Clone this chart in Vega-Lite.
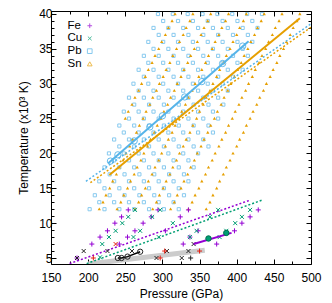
{
"$schema":"https://vega.github.io/schema/vega-lite/v6.json",
"width":260,"height":253,"autosize":"none",
"padding":{"left":51,"top":11,"right":21,"bottom":39},
"config":{"view":{"stroke":"#000","strokeWidth":1},"font":"Liberation Sans",
"axis":{"labelFont":"Liberation Sans","labelFontSize":12,"titleFont":"Liberation Sans","titleFontSize":12,"titleFontWeight":"normal","labelColor":"#000","titleColor":"#000","tickColor":"#000","tickWidth":1,"domain":false,"grid":false,"labelOverlap":false,"labelFlush":false},
"legend":{"labelFont":"Liberation Sans","labelFontSize":11.5,"labelColor":"#000","padding":0,"labelAlign":"left","labelOffset":-28,"symbolOffset":0,"rowPadding":-0.3,"symbolStrokeWidth":1,"symbolSize":22}},
"datasets":{
"pb":[
{"p":202,"t":12},{"p":222,"t":12},{"p":242,"t":12},{"p":262,"t":12},{"p":282,"t":12},{"p":302,"t":12},{"p":322,"t":12},
{"p":215,"t":13},{"p":235,"t":13},{"p":255,"t":13},{"p":275,"t":13},{"p":295,"t":13},{"p":315,"t":13},
{"p":209,"t":14},{"p":229,"t":14},{"p":249,"t":14},{"p":269,"t":14},{"p":289,"t":14},{"p":309,"t":14},{"p":329,"t":14},
{"p":222,"t":15},{"p":242,"t":15},{"p":262,"t":15},{"p":282,"t":15},{"p":302,"t":15},{"p":322,"t":15},
{"p":215,"t":16},{"p":235,"t":16},{"p":255,"t":16},{"p":275,"t":16},{"p":295,"t":16},{"p":315,"t":16},{"p":335,"t":16},
{"p":229,"t":17},{"p":249,"t":17},{"p":269,"t":17},{"p":289,"t":17},{"p":309,"t":17},{"p":329,"t":17},
{"p":222,"t":18},{"p":242,"t":18},{"p":262,"t":18},{"p":282,"t":18},{"p":302,"t":18},{"p":322,"t":18},{"p":342,"t":18},
{"p":235,"t":19},{"p":255,"t":19},{"p":275,"t":19},{"p":295,"t":19},{"p":315,"t":19},{"p":335,"t":19},
{"p":228,"t":20},{"p":248,"t":20},{"p":268,"t":20},{"p":288,"t":20},{"p":308,"t":20},{"p":328,"t":20},{"p":348,"t":20},
{"p":242,"t":21},{"p":262,"t":21},{"p":282,"t":21},{"p":302,"t":21},{"p":322,"t":21},{"p":342,"t":21},{"p":362,"t":21},
{"p":235,"t":22},{"p":255,"t":22},{"p":275,"t":22},{"p":295,"t":22},{"p":315,"t":22},{"p":335,"t":22},{"p":355,"t":22},
{"p":248,"t":23},{"p":268,"t":23},{"p":288,"t":23},{"p":308,"t":23},{"p":328,"t":23},{"p":348,"t":23},{"p":368,"t":23},
{"p":242,"t":24},{"p":262,"t":24},{"p":282,"t":24},{"p":302,"t":24},{"p":322,"t":24},{"p":342,"t":24},{"p":362,"t":24},
{"p":255,"t":25},{"p":275,"t":25},{"p":295,"t":25},{"p":315,"t":25},{"p":335,"t":25},{"p":355,"t":25},{"p":375,"t":25},
{"p":248,"t":26},{"p":268,"t":26},{"p":288,"t":26},{"p":308,"t":26},{"p":328,"t":26},{"p":348,"t":26},{"p":368,"t":26},
{"p":262,"t":27},{"p":282,"t":27},{"p":302,"t":27},{"p":322,"t":27},{"p":342,"t":27},{"p":362,"t":27},{"p":382,"t":27},
{"p":255,"t":28},{"p":275,"t":28},{"p":295,"t":28},{"p":315,"t":28},{"p":335,"t":28},{"p":355,"t":28},{"p":375,"t":28},
{"p":268,"t":29},{"p":288,"t":29},{"p":308,"t":29},{"p":328,"t":29},{"p":348,"t":29},{"p":368,"t":29},{"p":388,"t":29},
{"p":261,"t":30},{"p":281,"t":30},{"p":301,"t":30},{"p":321,"t":30},{"p":341,"t":30},{"p":361,"t":30},{"p":381,"t":30},
{"p":275,"t":31},{"p":295,"t":31},{"p":315,"t":31},{"p":335,"t":31},{"p":355,"t":31},{"p":375,"t":31},{"p":395,"t":31},
{"p":268,"t":32},{"p":288,"t":32},{"p":308,"t":32},{"p":328,"t":32},{"p":348,"t":32},{"p":368,"t":32},{"p":388,"t":32},{"p":408,"t":32},
{"p":281,"t":33},{"p":301,"t":33},{"p":321,"t":33},{"p":341,"t":33},{"p":361,"t":33},{"p":381,"t":33},{"p":401,"t":33},
{"p":275,"t":34},{"p":295,"t":34},{"p":315,"t":34},{"p":335,"t":34},{"p":355,"t":34},{"p":375,"t":34},{"p":395,"t":34},{"p":415,"t":34},
{"p":288,"t":35},{"p":308,"t":35},{"p":328,"t":35},{"p":348,"t":35},{"p":368,"t":35},{"p":388,"t":35},{"p":408,"t":35},
{"p":281,"t":36},{"p":301,"t":36},{"p":321,"t":36},{"p":341,"t":36},{"p":361,"t":36},{"p":381,"t":36},{"p":401,"t":36},{"p":421,"t":36},
{"p":295,"t":37},{"p":315,"t":37},{"p":335,"t":37},{"p":355,"t":37},{"p":375,"t":37},{"p":395,"t":37},{"p":415,"t":37},
{"p":288,"t":38},{"p":308,"t":38},{"p":328,"t":38},{"p":348,"t":38},{"p":368,"t":38},{"p":388,"t":38},{"p":408,"t":38},{"p":428,"t":38},
{"p":301,"t":39},{"p":321,"t":39},{"p":341,"t":39},{"p":361,"t":39},{"p":381,"t":39},{"p":401,"t":39},{"p":421,"t":39},
{"p":294,"t":40},{"p":314,"t":40},{"p":334,"t":40},{"p":354,"t":40},{"p":374,"t":40},{"p":394,"t":40},{"p":414,"t":40},{"p":434,"t":40}
],
"sn":[
{"p":359,"t":12},{"p":335,"t":12},{"p":311,"t":12},{"p":287,"t":12},{"p":263,"t":12},{"p":239,"t":12},{"p":215,"t":12},
{"p":364,"t":13},{"p":340,"t":13},{"p":316,"t":13},{"p":292,"t":13},{"p":268,"t":13},{"p":244,"t":13},{"p":220,"t":13},
{"p":368,"t":14},{"p":344,"t":14},{"p":320,"t":14},{"p":296,"t":14},{"p":272,"t":14},{"p":248,"t":14},{"p":224,"t":14},
{"p":373,"t":15},{"p":349,"t":15},{"p":325,"t":15},{"p":301,"t":15},{"p":277,"t":15},{"p":253,"t":15},{"p":229,"t":15},
{"p":377,"t":16},{"p":353,"t":16},{"p":329,"t":16},{"p":305,"t":16},{"p":281,"t":16},{"p":257,"t":16},{"p":233,"t":16},
{"p":382,"t":17},{"p":358,"t":17},{"p":334,"t":17},{"p":310,"t":17},{"p":286,"t":17},{"p":262,"t":17},{"p":238,"t":17},
{"p":386,"t":18},{"p":362,"t":18},{"p":338,"t":18},{"p":314,"t":18},{"p":290,"t":18},{"p":266,"t":18},{"p":242,"t":18},
{"p":391,"t":19},{"p":367,"t":19},{"p":343,"t":19},{"p":319,"t":19},{"p":295,"t":19},{"p":271,"t":19},{"p":247,"t":19},
{"p":395,"t":20},{"p":371,"t":20},{"p":347,"t":20},{"p":323,"t":20},{"p":299,"t":20},{"p":275,"t":20},{"p":251,"t":20},
{"p":400,"t":21},{"p":376,"t":21},{"p":352,"t":21},{"p":328,"t":21},{"p":304,"t":21},{"p":280,"t":21},{"p":256,"t":21},
{"p":404,"t":22},{"p":380,"t":22},{"p":356,"t":22},{"p":332,"t":22},{"p":308,"t":22},{"p":284,"t":22},{"p":260,"t":22},
{"p":409,"t":23},{"p":385,"t":23},{"p":361,"t":23},{"p":337,"t":23},{"p":313,"t":23},{"p":289,"t":23},{"p":265,"t":23},
{"p":413,"t":24},{"p":389,"t":24},{"p":365,"t":24},{"p":341,"t":24},{"p":317,"t":24},{"p":293,"t":24},{"p":269,"t":24},
{"p":418,"t":25},{"p":394,"t":25},{"p":370,"t":25},{"p":346,"t":25},{"p":322,"t":25},{"p":298,"t":25},{"p":274,"t":25},{"p":250,"t":25},
{"p":422,"t":26},{"p":398,"t":26},{"p":374,"t":26},{"p":350,"t":26},{"p":326,"t":26},{"p":302,"t":26},{"p":278,"t":26},{"p":254,"t":26},
{"p":427,"t":27},{"p":403,"t":27},{"p":379,"t":27},{"p":355,"t":27},{"p":331,"t":27},{"p":307,"t":27},{"p":283,"t":27},{"p":259,"t":27},
{"p":431,"t":28},{"p":407,"t":28},{"p":383,"t":28},{"p":359,"t":28},{"p":335,"t":28},{"p":311,"t":28},{"p":287,"t":28},{"p":263,"t":28},
{"p":436,"t":29},{"p":412,"t":29},{"p":388,"t":29},{"p":364,"t":29},{"p":340,"t":29},{"p":316,"t":29},{"p":292,"t":29},{"p":268,"t":29},
{"p":440,"t":30},{"p":416,"t":30},{"p":392,"t":30},{"p":368,"t":30},{"p":344,"t":30},{"p":320,"t":30},{"p":296,"t":30},{"p":272,"t":30},
{"p":445,"t":31},{"p":421,"t":31},{"p":397,"t":31},{"p":373,"t":31},{"p":349,"t":31},{"p":325,"t":31},{"p":301,"t":31},{"p":277,"t":31},
{"p":449,"t":32},{"p":425,"t":32},{"p":401,"t":32},{"p":377,"t":32},{"p":353,"t":32},{"p":329,"t":32},{"p":305,"t":32},{"p":281,"t":32},
{"p":454,"t":33},{"p":430,"t":33},{"p":406,"t":33},{"p":382,"t":33},{"p":358,"t":33},{"p":334,"t":33},{"p":310,"t":33},{"p":286,"t":33},
{"p":458,"t":34},{"p":434,"t":34},{"p":410,"t":34},{"p":386,"t":34},{"p":362,"t":34},{"p":338,"t":34},{"p":314,"t":34},{"p":290,"t":34},
{"p":463,"t":35},{"p":439,"t":35},{"p":415,"t":35},{"p":391,"t":35},{"p":367,"t":35},{"p":343,"t":35},{"p":319,"t":35},{"p":295,"t":35},
{"p":467,"t":36},{"p":443,"t":36},{"p":419,"t":36},{"p":395,"t":36},{"p":371,"t":36},{"p":347,"t":36},{"p":323,"t":36},{"p":299,"t":36},
{"p":472,"t":37},{"p":448,"t":37},{"p":424,"t":37},{"p":400,"t":37},{"p":376,"t":37},{"p":352,"t":37},{"p":328,"t":37},{"p":304,"t":37},
{"p":476,"t":38},{"p":452,"t":38},{"p":428,"t":38},{"p":404,"t":38},{"p":380,"t":38},{"p":356,"t":38},{"p":332,"t":38},{"p":308,"t":38},
{"p":481,"t":39},{"p":457,"t":39},{"p":433,"t":39},{"p":409,"t":39},{"p":385,"t":39},{"p":361,"t":39},{"p":337,"t":39},{"p":313,"t":39},
{"p":485,"t":40},{"p":461,"t":40},{"p":437,"t":40},{"p":413,"t":40},{"p":389,"t":40},{"p":365,"t":40},{"p":341,"t":40},{"p":317,"t":40}
],
"fe":[{"p":185,"t":5.0},{"p":205,"t":7.0},{"p":216,"t":8.0},{"p":226,"t":8.9},{"p":236,"t":10.0},{"p":245,"t":10.9},{"p":254,"t":11.9},
{"p":242,"t":7.0},{"p":253,"t":8.0},{"p":263,"t":8.9},{"p":274,"t":10.0},{"p":285,"t":10.9},{"p":294,"t":11.9},
{"p":304,"t":8.9},{"p":324,"t":10.9},{"p":335,"t":11.9},{"p":328,"t":7.0},{"p":337,"t":8.0},{"p":348,"t":8.9},
{"p":373,"t":7.0},{"p":397,"t":8.9},{"p":407,"t":10.0},{"p":418,"t":10.9},{"p":429,"t":11.9}],
"cu":[{"p":216,"t":5.1},{"p":219,"t":7.0},{"p":228,"t":8.0},{"p":237,"t":8.9},{"p":246,"t":10.0},{"p":254,"t":10.9},{"p":263,"t":11.9},
{"p":261,"t":8.0},{"p":270,"t":8.9},{"p":286,"t":10.9},{"p":297,"t":11.9},{"p":295,"t":8.0},{"p":314,"t":10.0},
{"p":337,"t":8.0},{"p":346,"t":8.9},{"p":364,"t":10.9},{"p":375,"t":11.9},
{"p":377,"t":8.0},{"p":386,"t":8.9},{"p":398,"t":10.0},{"p":407,"t":10.9},{"p":418,"t":11.9}],
"bx":[{"p":185,"t":5.0},{"p":194,"t":6.0},{"p":226,"t":6.0},{"p":259,"t":6.0},{"p":292,"t":5.0},{"p":306,"t":6.0},{"p":326,"t":5.0},{"p":335,"t":6.0},{"p":342,"t":7.0}],
"rp":[{"p":207,"t":5.0},{"p":297,"t":5.0},{"p":303,"t":6.0},{"p":350,"t":6.0}],
"rx":[{"p":237,"t":7.0}],
"bp":[{"p":338,"t":5.0}],
"pbl":[{"p":227,"t":18.6},{"p":416,"t":36.1}],
"pbc":[{"p":230,"t":18.9},{"p":240,"t":19.8},{"p":262,"t":21.8},{"p":283,"t":23.8},{"p":300,"t":25.4},{"p":330,"t":28.1},{"p":353,"t":30.3},{"p":381,"t":32.9},{"p":408,"t":35.4}],
"snl":[{"p":228.5,"t":16.9},{"p":485,"t":39.4}],
"pbd":[{"p":197,"t":16.0},{"p":500,"t":38.6}],
"snd":[{"p":203,"t":15.8},{"p":500,"t":38.1}],
"fed":[{"p":175,"t":4.2},{"p":418,"t":13.3}],
"cud":[{"p":198,"t":4.2},{"p":434,"t":13.3}],
"fel":[{"p":342,"t":7.0},{"p":393,"t":8.6}],
"fec":[{"p":362,"t":7.8},{"p":386,"t":8.6}],
"gb":[{"p":200,"t":4.14},{"p":357,"t":6.1}],
"bl":[{"p":240,"t":5.0},{"p":245,"t":5.0},{"p":253,"t":5.2},{"p":270,"t":5.9}]
},
"layer":[
{"data":{"name":"pb"},"mark":{"type":"point","filled":false,"strokeWidth":1,"size":10,"opacity":0.7},
"encoding":{
"x":{"field":"p","type":"quantitative","scale":{"domain":[150,500],"nice":false,"zero":false},
"axis":{"orient":"bottom","values":[150,175,200,225,250,275,300,325,350,375,400,425,450,475,500],"labelExpr":"datum.value % 50 === 0 ? datum.label : ''","tickSize":{"condition":{"test":"datum.value % 50 === 0","value":-5},"value":-3},"labelPadding":13,"title":"Pressure (GPa)","titlePadding":3}},
"y":{"field":"t","type":"quantitative","scale":{"domain":[4.14,40.43],"nice":false,"zero":false},
"axis":{"orient":"left","values":[5,6,7,8,9,10,11,12,13,14,15,16,17,18,19,20,21,22,23,24,25,26,27,28,29,30,31,32,33,34,35,36,37,38,39,40],"labelExpr":"datum.value % 5 === 0 ? datum.label : ''","tickSize":{"condition":{"test":"datum.value % 5 === 0","value":-5},"value":-3},"labelPadding":4,"title":"Temperature (x10³ K)","titlePadding":8}},
"color":{"datum":"Pb","type":"nominal","scale":{"domain":["Fe","Cu","Pb","Sn"],"range":["#9400d3","#009e73","#56b4e9","#e69f00"]},
"legend":{"orient":"none","legendX":33,"legendY":9,"title":null}},
"shape":{"datum":"Pb","type":"nominal","scale":{"domain":["Fe","Cu","Pb","Sn"],"range":["M-1,0H1M0,-1V1","M-0.8,-0.8L0.8,0.8M-0.8,0.8L0.8,-0.8","square","triangle-up"]},
"legend":{"orient":"none","legendX":33,"legendY":9,"title":null}}}},
{"data":{"name":"sn"},"mark":{"type":"point","filled":false,"strokeWidth":1.1,"size":2,"opacity":1},
"encoding":{
"x":{"field":"p","type":"quantitative","axis":{"orient":"top","values":[150,175,200,225,250,275,300,325,350,375,400,425,450,475,500],"labels":false,"title":null,"tickSize":{"condition":{"test":"datum.value % 50 === 0","value":-5},"value":-3}}},
"y":{"field":"t","type":"quantitative","axis":{"orient":"right","values":[5,6,7,8,9,10,11,12,13,14,15,16,17,18,19,20,21,22,23,24,25,26,27,28,29,30,31,32,33,34,35,36,37,38,39,40],"labels":false,"title":null,"tickSize":{"condition":{"test":"datum.value % 5 === 0","value":-5},"value":-3}}},
"color":{"datum":"Sn","type":"nominal"},"shape":{"datum":"Sn","type":"nominal"}}},
{"data":{"name":"pbd"},"mark":{"type":"line","color":"#56b4e9","strokeWidth":1.5,"strokeDash":[2,2],"clip":true},
"encoding":{"x":{"field":"p","type":"quantitative","axis":null},"y":{"field":"t","type":"quantitative","axis":null}}},
{"data":{"name":"snd"},"mark":{"type":"line","color":"#e69f00","strokeWidth":1.5,"strokeDash":[2,2],"clip":true},
"encoding":{"x":{"field":"p","type":"quantitative","axis":null},"y":{"field":"t","type":"quantitative","axis":null}}},
{"data":{"name":"pbl"},"mark":{"type":"line","color":"#56b4e9","strokeWidth":2},
"encoding":{"x":{"field":"p","type":"quantitative","axis":null},"y":{"field":"t","type":"quantitative","axis":null}}},
{"data":{"name":"pbc"},"mark":{"type":"point","shape":"circle","filled":false,"color":"#56b4e9","strokeWidth":1,"size":40,"opacity":0.9},
"encoding":{"x":{"field":"p","type":"quantitative","axis":null},"y":{"field":"t","type":"quantitative","axis":null}}},
{"data":{"name":"snl"},"mark":{"type":"line","color":"#e69f00","strokeWidth":2},
"encoding":{"x":{"field":"p","type":"quantitative","axis":null},"y":{"field":"t","type":"quantitative","axis":null}}},
{"data":{"name":"gb"},"mark":{"type":"line","color":"#cccccc","strokeWidth":5,"clip":true},
"encoding":{"x":{"field":"p","type":"quantitative","axis":null},"y":{"field":"t","type":"quantitative","axis":null}}},
{"data":{"name":"fed"},"mark":{"type":"line","color":"#9400d3","strokeWidth":1.5,"strokeDash":[2,2],"clip":true},
"encoding":{"x":{"field":"p","type":"quantitative","axis":null},"y":{"field":"t","type":"quantitative","axis":null}}},
{"data":{"name":"cud"},"mark":{"type":"line","color":"#009e73","strokeWidth":1.5,"strokeDash":[2,2],"clip":true},
"encoding":{"x":{"field":"p","type":"quantitative","axis":null},"y":{"field":"t","type":"quantitative","axis":null}}},
{"data":{"name":"fe"},"mark":{"type":"point","filled":false,"strokeWidth":1,"size":25,"opacity":1},
"encoding":{"x":{"field":"p","type":"quantitative","axis":null},"y":{"field":"t","type":"quantitative","axis":null},
"color":{"datum":"Fe","type":"nominal"},"shape":{"datum":"Fe","type":"nominal"}}},
{"data":{"name":"cu"},"mark":{"type":"point","filled":false,"strokeWidth":1,"size":25,"opacity":1},
"encoding":{"x":{"field":"p","type":"quantitative","axis":null},"y":{"field":"t","type":"quantitative","axis":null},
"color":{"datum":"Cu","type":"nominal"},"shape":{"datum":"Cu","type":"nominal"}}},
{"data":{"name":"bx"},"mark":{"type":"point","filled":false,"strokeWidth":1,"size":25,"opacity":1,"color":"#222222","shape":"M-0.8,-0.8L0.8,0.8M-0.8,0.8L0.8,-0.8"},
"encoding":{"x":{"field":"p","type":"quantitative","axis":null},"y":{"field":"t","type":"quantitative","axis":null}}},
{"data":{"name":"rp"},"mark":{"type":"point","filled":false,"strokeWidth":1,"size":25,"opacity":1,"color":"#e51e10","shape":"M-1,0H1M0,-1V1"},
"encoding":{"x":{"field":"p","type":"quantitative","axis":null},"y":{"field":"t","type":"quantitative","axis":null}}},
{"data":{"name":"rx"},"mark":{"type":"point","filled":false,"strokeWidth":1,"size":25,"opacity":1,"color":"#e51e10","shape":"M-0.8,-0.8L0.8,0.8M-0.8,0.8L0.8,-0.8"},
"encoding":{"x":{"field":"p","type":"quantitative","axis":null},"y":{"field":"t","type":"quantitative","axis":null}}},
{"data":{"name":"bp"},"mark":{"type":"point","filled":false,"strokeWidth":1,"size":25,"opacity":1,"color":"#222222","shape":"M-1,0H1M0,-1V1"},
"encoding":{"x":{"field":"p","type":"quantitative","axis":null},"y":{"field":"t","type":"quantitative","axis":null}}},
{"data":{"name":"fel"},"mark":{"type":"line","color":"#9400d3","strokeWidth":2},
"encoding":{"x":{"field":"p","type":"quantitative","axis":null},"y":{"field":"t","type":"quantitative","axis":null}}},
{"data":{"name":"fec"},"mark":{"type":"point","shape":"circle","filled":true,"color":"#009e73","stroke":"#006e50","strokeWidth":1,"size":30,"opacity":1},
"encoding":{"x":{"field":"p","type":"quantitative","axis":null},"y":{"field":"t","type":"quantitative","axis":null}}},
{"data":{"name":"bl"},"mark":{"type":"line","color":"#000000","strokeWidth":1.5},
"encoding":{"x":{"field":"p","type":"quantitative","axis":null},"y":{"field":"t","type":"quantitative","axis":null}}},
{"data":{"name":"bl"},"mark":{"type":"point","shape":"circle","filled":false,"color":"#222222","strokeWidth":1,"size":28,"opacity":1},
"encoding":{"x":{"field":"p","type":"quantitative","axis":null},"y":{"field":"t","type":"quantitative","axis":null}}}
],
"resolve":{"axis":{"x":"independent","y":"independent"}}
}
